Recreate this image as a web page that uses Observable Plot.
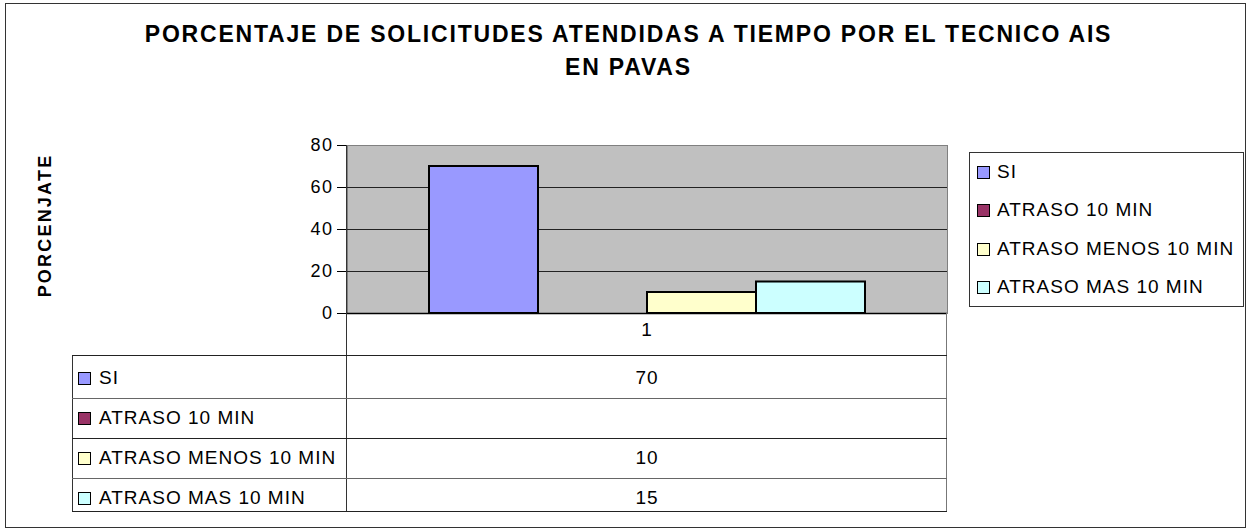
<!DOCTYPE html>
<html><head><meta charset="utf-8">
<script src="https://cdn.jsdelivr.net/npm/d3@7"></script>
<script src="https://cdn.jsdelivr.net/npm/@observablehq/plot@0.6"></script>
<style>
body{margin:0;background:#fff;font-family:Arial,"Liberation Sans",sans-serif;color:#000;}
#wrap{position:relative;width:1251px;height:531px;overflow:hidden;}
#wrap svg{position:absolute;left:0;top:0;}
.abs{position:absolute;}
.title{position:absolute;left:0;width:1257px;text-align:center;font-weight:bold;font-size:23px;letter-spacing:1.8px;line-height:26px;white-space:nowrap;}
.ylab{position:absolute;font-weight:bold;font-size:18px;letter-spacing:2.2px;white-space:nowrap;transform-origin:center;}
.key{position:absolute;width:11px;height:11px;border:1px solid #000;box-sizing:content-box;}
.txt{position:absolute;font-size:19px;letter-spacing:1px;white-space:nowrap;line-height:20px;}
.hl{position:absolute;height:0;border-top:1px solid #333;}
.vl{position:absolute;width:0;border-left:1px solid #333;}
</style></head><body><div id="wrap"></div>
<script>
const title = ["PORCENTAJE DE SOLICITUDES ATENDIDAS A TIEMPO POR EL TECNICO AIS", "EN PAVAS"];
const yLabel = "PORCENJATE";
const category = "1";
const series = ["SI", "ATRASO 10 MIN", "ATRASO MENOS 10 MIN", "ATRASO MAS 10 MIN"];
const values = [70, null, 10, 15];
const colors = ["#9999ff", "#993366", "#ffffcc", "#ccffff"];
const yTicks = [0, 20, 40, 60, 80];

const data = series.map((s, i) => ({series: s, category, value: values[i]}));
const wrap = d3.select("#wrap");

// outer frame
wrap.append("div").attr("class", "abs")
  .style("left", "5px").style("top", "3px").style("width", "1239px").style("height", "523px")
  .style("border", "1px solid #333");

const chart = Plot.plot({
  width: 1251, height: 531,
  marginLeft: 347, marginRight: 304, marginTop: 145, marginBottom: 218,
  style: {background: "transparent", fontFamily: "Arial, 'Liberation Sans', sans-serif", fontSize: "18px", color: "#000", overflow: "visible"},
  x: {domain: series, paddingInner: 0, paddingOuter: 0.75, axis: null},
  y: {domain: [0, 80], ticks: yTicks, tickSize: 10, label: null, axis: null},
  color: {domain: series, range: colors},
  marks: [
    Plot.frame({fill: "#c0c0c0", stroke: "#808080"}),
    Plot.ruleY(yTicks.filter(d => d > 0 && d < 80), {stroke: "#222", strokeWidth: 1}),
    Plot.barY(data.filter(d => d.value != null), {x: "series", y: "value", fill: "series", stroke: "#000", strokeWidth: 2}),
    Plot.ruleY([0], {stroke: "#000", strokeWidth: 1.5}),
    Plot.axisY({ticks: yTicks, tickSize: 10, tickPadding: 4, tickFormat: d => String(d), stroke: "#000", fontSize: 18, label: null})
  ]
});
wrap.node().appendChild(chart);
d3.select(chart).selectAll("text").style("letter-spacing", "1.5px");

// title
title.forEach((t, i) => {
  wrap.append("div").attr("class", "title").style("top", (21 + i * 33) + "px").text(t);
});

// y label
wrap.append("div").attr("class", "ylab")
  .style("left", (45 - 80) + "px").style("top", (225 - 10) + "px").style("width", "160px").style("text-align", "center")
  .style("transform", "rotate(-90deg)").text(yLabel);

// legend
wrap.append("div").attr("class", "abs")
  .style("left", "969px").style("top", "152px").style("width", "273px").style("height", "153px")
  .style("border", "1px solid #333");
series.forEach((s, i) => {
  const cy = 172 + i * 38.3;
  wrap.append("div").attr("class", "key").style("left", "977px").style("top", (cy - 6) + "px").style("background", colors[i]);
  wrap.append("div").attr("class", "txt").style("left", "997px").style("top", (cy - 10) + "px").text(s);
});

// data table
const rowLines = [355, 398, 438, 478, 511];
const rowText = [378, 418, 458, 498];
wrap.append("div").attr("class", "vl").style("left", "346px").style("top", "145px").style("height", "366px");
wrap.append("div").attr("class", "vl").style("left", "946px").style("top", "313px").style("height", "198px").style("border-color", "#777");
wrap.append("div").attr("class", "vl").style("left", "72px").style("top", "355px").style("height", "156px");
rowLines.forEach((y, i) => {
  wrap.append("div").attr("class", "hl").style("left", "72px").style("top", y + "px").style("width", "875px")
    .style("border-color", i % 2 === 0 ? "#222" : "#666");
});
wrap.append("div").attr("class", "txt").style("left", "347px").style("width", "600px").style("text-align", "center")
  .style("top", (330 - 10) + "px").text(category);
series.forEach((s, i) => {
  const cy = rowText[i];
  wrap.append("div").attr("class", "key").style("left", "78px").style("top", (cy - 6) + "px").style("background", colors[i]);
  wrap.append("div").attr("class", "txt").style("left", "99px").style("top", (cy - 10) + "px").text(s);
  wrap.append("div").attr("class", "txt").style("left", "347px").style("width", "600px").style("text-align", "center")
    .style("top", (cy - 10) + "px").text(values[i] == null ? "" : String(values[i]));
});
</script>
</body></html>
